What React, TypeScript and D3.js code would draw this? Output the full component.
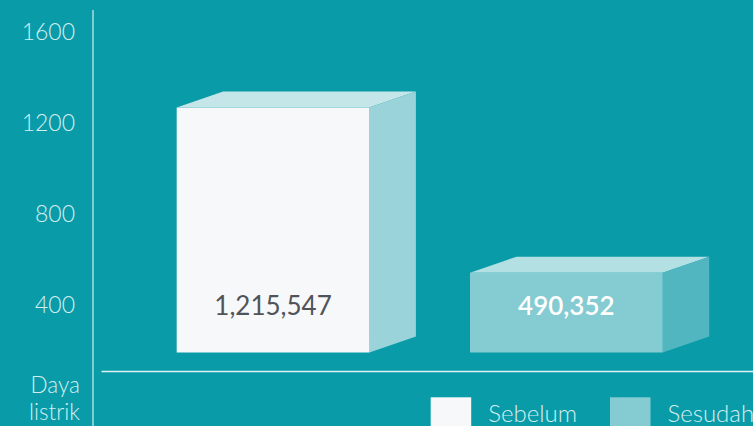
import React from "react";
import * as d3 from "d3";

const categories = ["Sebelum", "Sesudah"];
const values = [1215547, 490352];
const valueLabels = ["1,215,547", "490,352"];
const ticks = [400, 800, 1200, 1600];

const W = 753;
const H = 426;
const BG = "#0a9ba9";
const front = ["#f7f8fa", "#84ccd2"];
const topC = ["#c5e6e9", "#b3e0e3"];
const side = ["#9ad3da", "#52b6c0"];
const labelColor = ["#505458", "#ffffff"];
const FONT = "Lato, 'Open Sans', sans-serif";
const TXT = "#d4eef0";

export default function App() {
  const y = d3.scaleLinear().domain([0, 1600]).range([384.3, 20.1]);
  const x = d3
    .scaleBand<string>()
    .domain(categories)
    .range([176.7, 662.7])
    .paddingInner(0.343)
    .paddingOuter(0);
  const bottom = 352.5;
  const dx = 46.5;
  const dy = -16;

  return (
    <div style={{ position: "absolute", left: 0, top: 0 }}>
      <svg width={W} height={H} style={{ display: "block" }}>
        <rect x={0} y={0} width={W} height={H} fill={BG} />
        <line x1={93} x2={93} y1={10} y2={H} stroke="#a9dce1" strokeWidth={1.5} />
        <line x1={101.5} x2={W} y1={371.5} y2={371.5} stroke="#dff1f3" strokeWidth={1.5} />
        {ticks.map((t) => (
          <text
            key={t}
            x={75}
            y={y(t) + 1}
            dominantBaseline="hanging"
            textAnchor="end"
            fontFamily={FONT}
            fontWeight={300}
            fontSize={23}
            fill={TXT}
          >
            {t}
          </text>
        ))}
        <text x={80} y={393} textAnchor="end" fontFamily={FONT} fontWeight={300} fontSize={22.5} fill={TXT}>
          Daya
        </text>
        <text x={80} y={420} textAnchor="end" fontFamily={FONT} fontWeight={300} fontSize={22.5} fill={TXT}>
          listrik
        </text>
        {categories.map((c, i) => {
          const x0 = x(c)!;
          const x1 = x0 + x.bandwidth();
          const yt = y(values[i] / 1000);
          return (
            <g key={c}>
              <polygon
                points={`${x0},${yt} ${x0 + dx},${yt + dy} ${x1 + dx},${yt + dy} ${x1},${yt}`}
                fill={topC[i]}
              />
              <polygon
                points={`${x1},${yt} ${x1 + dx},${yt + dy} ${x1 + dx},${bottom + dy} ${x1},${bottom}`}
                fill={side[i]}
              />
              <rect x={x0} y={yt} width={x1 - x0} height={bottom - yt} fill={front[i]} />
              <text
                x={(x0 + x1) / 2}
                y={315}
                textAnchor="middle"
                fontFamily={FONT}
                fontWeight={i === 0 ? 400 : 600}
                fontSize={26}
                fill={labelColor[i]}
              >
                {valueLabels[i]}
              </text>
            </g>
          );
        })}
        {categories.map((c, i) => {
          const lx = [430.7, 610][i];
          return (
            <g key={"lg" + c}>
              <rect x={lx} y={397.3} width={40.5} height={30} fill={front[i]} />
              <text x={lx + 57.5} y={421.5} fontFamily={FONT} fontWeight={300} fontSize={24} fill={TXT}>
                {c}
              </text>
            </g>
          );
        })}
      </svg>
    </div>
  );
}
